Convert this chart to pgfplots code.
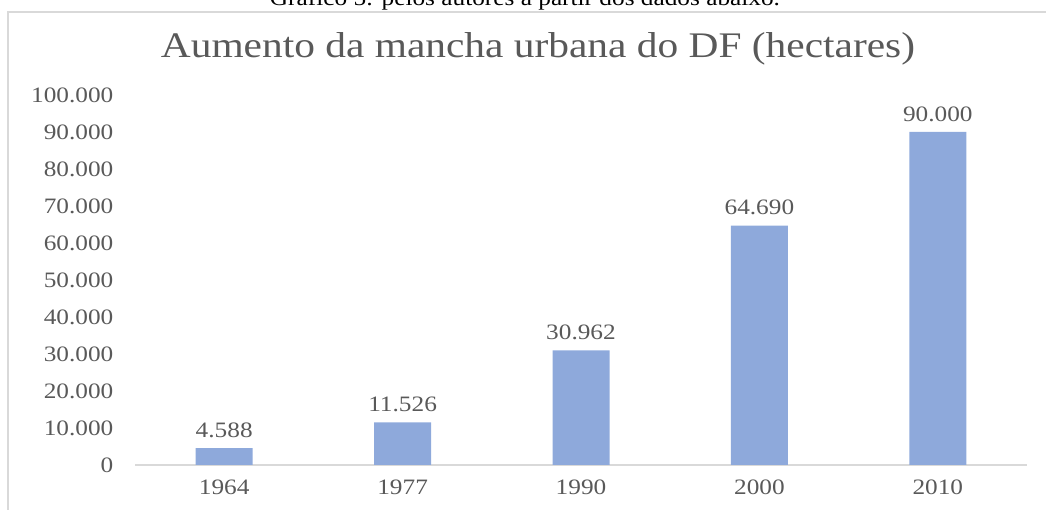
\documentclass[border=0pt]{standalone}
\usepackage{pgfplots}
\pgfplotsset{compat=1.18}
\usepackage{fontspec}
\setmainfont[FakeStretch=1.15]{Liberation Serif}
\definecolor{barblue}{HTML}{8EA9DB}
\definecolor{txtgray}{HTML}{595959}
\definecolor{linegray}{HTML}{D9D9D9}

\begin{document}
\begin{tikzpicture}
\useasboundingbox (0pt,0pt) rectangle (1046pt,510pt);
\draw[linegray, line width=1.5pt] (8pt,0pt) -- (8pt,498pt) -- (1046pt,498pt);
\node[font=\fontsize{22}{24}\selectfont, anchor=base] at (525pt,504pt) {Gráfico 5: pelos autores a partir dos dados abaixo.};
\node[font=\fontsize{36}{40}\selectfont, text=txtgray, anchor=base] at (538pt,452pt) {Aumento da mancha urbana do DF (hectares)};
\begin{axis}[at={(135pt,45pt)}, anchor=south west, scale only axis,
  width=892pt, height=370pt,
  xmin=-0.5, xmax=4.5, ymin=0, ymax=100000,
  axis x line=bottom, axis y line=left,
  x axis line style={linegray, line width=1.2pt, -},
  y axis line style={draw=none},
  tick style={draw=none},
  xtick={0,1,2,3,4}, xticklabels={1964,1977,1990,2000,2010},
  ytick={0,10000,...,100000},
  scaled y ticks=false,
  /pgf/number format/.cd, fixed, precision=0, 1000 sep={.}, assume math mode=true,
  /pgfplots/.cd,
  tick label style={font=\fontsize{22}{24}\selectfont, text=txtgray},
  yticklabel style={xshift=-16pt},
  xticklabel style={yshift=-9pt},
  nodes near coords,
  nodes near coords style={font=\fontsize{22}{24}\selectfont, text=txtgray, yshift=7pt},
  clip=false]
\addplot[ybar, bar width=57pt, fill=barblue, draw=none] coordinates {
(0,4588) (1,11526) (2,30962) (3,64690) (4,90000)};
\end{axis}
\end{tikzpicture}
\end{document}
